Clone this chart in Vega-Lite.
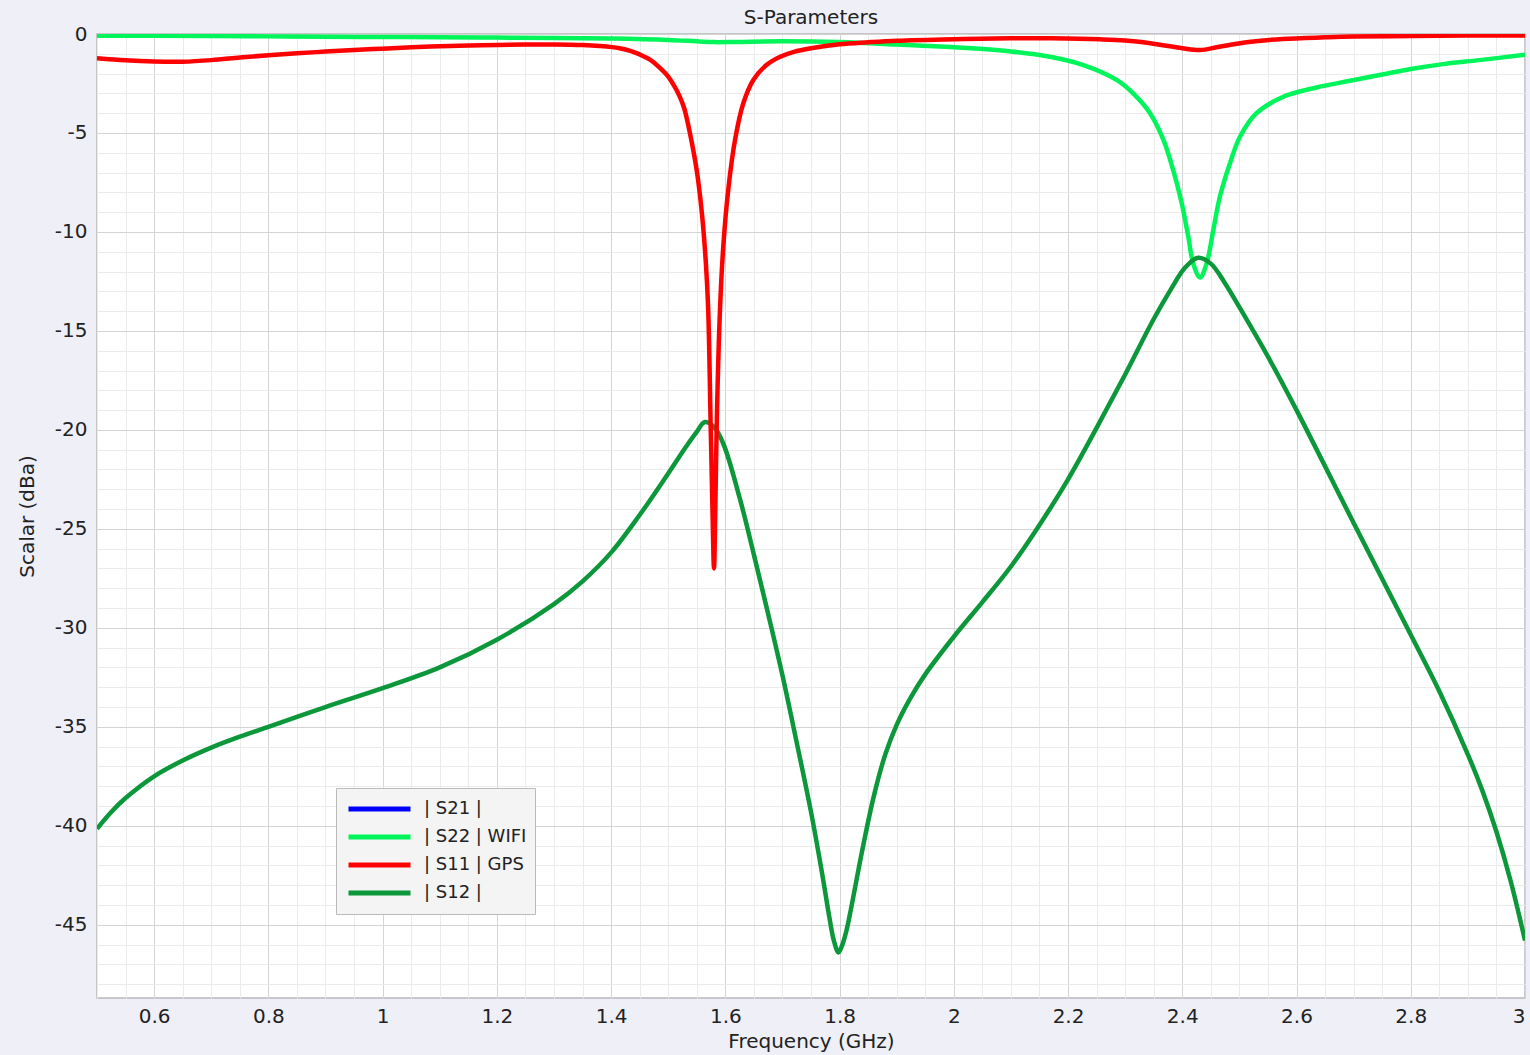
{
  "$schema": "https://vega.github.io/schema/vega-lite/v6.json",
  "width": 1428,
  "height": 964,
  "autosize": {"type": "none"},
  "padding": {"left": 97, "top": 34, "right": 5, "bottom": 57},
  "background": "#efeff8",
  "config": {
    "view": {"fill": "white", "stroke": "#b8b8b8", "strokeWidth": 1.5},
    "font": "DejaVu Sans"
  },
  "title": {"text": "S-Parameters", "fontSize": 20, "fontWeight": "normal", "color": "#222222", "offset": -4, "font": "DejaVu Sans"},
  "data": {"values": [
    {"s": "| S11 | GPS", "f": 0.5, "db": -1.23},
    {"s": "| S11 | GPS", "f": 0.55, "db": -1.33},
    {"s": "| S11 | GPS", "f": 0.6, "db": -1.39},
    {"s": "| S11 | GPS", "f": 0.65, "db": -1.4},
    {"s": "| S11 | GPS", "f": 0.7, "db": -1.32},
    {"s": "| S11 | GPS", "f": 0.75, "db": -1.19},
    {"s": "| S11 | GPS", "f": 0.8, "db": -1.07},
    {"s": "| S11 | GPS", "f": 0.85, "db": -0.97},
    {"s": "| S11 | GPS", "f": 0.9, "db": -0.89},
    {"s": "| S11 | GPS", "f": 0.95, "db": -0.81},
    {"s": "| S11 | GPS", "f": 1.0, "db": -0.74},
    {"s": "| S11 | GPS", "f": 1.05, "db": -0.67},
    {"s": "| S11 | GPS", "f": 1.1, "db": -0.62},
    {"s": "| S11 | GPS", "f": 1.15, "db": -0.58},
    {"s": "| S11 | GPS", "f": 1.2, "db": -0.55},
    {"s": "| S11 | GPS", "f": 1.25, "db": -0.53},
    {"s": "| S11 | GPS", "f": 1.3, "db": -0.53},
    {"s": "| S11 | GPS", "f": 1.35, "db": -0.56},
    {"s": "| S11 | GPS", "f": 1.38, "db": -0.61},
    {"s": "| S11 | GPS", "f": 1.415, "db": -0.72},
    {"s": "| S11 | GPS", "f": 1.435, "db": -0.86},
    {"s": "| S11 | GPS", "f": 1.45, "db": -1.03},
    {"s": "| S11 | GPS", "f": 1.47, "db": -1.33},
    {"s": "| S11 | GPS", "f": 1.485, "db": -1.7},
    {"s": "| S11 | GPS", "f": 1.5, "db": -2.15},
    {"s": "| S11 | GPS", "f": 1.51, "db": -2.6},
    {"s": "| S11 | GPS", "f": 1.52, "db": -3.15},
    {"s": "| S11 | GPS", "f": 1.528, "db": -3.75},
    {"s": "| S11 | GPS", "f": 1.538, "db": -5.0},
    {"s": "| S11 | GPS", "f": 1.55, "db": -6.9},
    {"s": "| S11 | GPS", "f": 1.559, "db": -9.06},
    {"s": "| S11 | GPS", "f": 1.566, "db": -11.6},
    {"s": "| S11 | GPS", "f": 1.57, "db": -13.9},
    {"s": "| S11 | GPS", "f": 1.5745, "db": -20},
    {"s": "| S11 | GPS", "f": 1.5775, "db": -24},
    {"s": "| S11 | GPS", "f": 1.5802, "db": -27},
    {"s": "| S11 | GPS", "f": 1.5825, "db": -24},
    {"s": "| S11 | GPS", "f": 1.5855, "db": -19},
    {"s": "| S11 | GPS", "f": 1.5907, "db": -13.9},
    {"s": "| S11 | GPS", "f": 1.5965, "db": -10.7},
    {"s": "| S11 | GPS", "f": 1.605, "db": -7.9},
    {"s": "| S11 | GPS", "f": 1.617, "db": -5.35},
    {"s": "| S11 | GPS", "f": 1.6315, "db": -3.5},
    {"s": "| S11 | GPS", "f": 1.649, "db": -2.32},
    {"s": "| S11 | GPS", "f": 1.672, "db": -1.57},
    {"s": "| S11 | GPS", "f": 1.696, "db": -1.15},
    {"s": "| S11 | GPS", "f": 1.72, "db": -0.9},
    {"s": "| S11 | GPS", "f": 1.75, "db": -0.72},
    {"s": "| S11 | GPS", "f": 1.8, "db": -0.52},
    {"s": "| S11 | GPS", "f": 1.85, "db": -0.42},
    {"s": "| S11 | GPS", "f": 1.9, "db": -0.34},
    {"s": "| S11 | GPS", "f": 2.0, "db": -0.26},
    {"s": "| S11 | GPS", "f": 2.1, "db": -0.21},
    {"s": "| S11 | GPS", "f": 2.17, "db": -0.22},
    {"s": "| S11 | GPS", "f": 2.256, "db": -0.27},
    {"s": "| S11 | GPS", "f": 2.3, "db": -0.33},
    {"s": "| S11 | GPS", "f": 2.344, "db": -0.47},
    {"s": "| S11 | GPS", "f": 2.4, "db": -0.72},
    {"s": "| S11 | GPS", "f": 2.431, "db": -0.81},
    {"s": "| S11 | GPS", "f": 2.46, "db": -0.67},
    {"s": "| S11 | GPS", "f": 2.49, "db": -0.52},
    {"s": "| S11 | GPS", "f": 2.52, "db": -0.39},
    {"s": "| S11 | GPS", "f": 2.576, "db": -0.25},
    {"s": "| S11 | GPS", "f": 2.65, "db": -0.17},
    {"s": "| S11 | GPS", "f": 2.7, "db": -0.13},
    {"s": "| S11 | GPS", "f": 2.8, "db": -0.1},
    {"s": "| S11 | GPS", "f": 2.9, "db": -0.08},
    {"s": "| S11 | GPS", "f": 3.0, "db": -0.07},

    {"s": "| S22 | WIFI", "f": 0.5, "db": -0.09},
    {"s": "| S22 | WIFI", "f": 0.6, "db": -0.09},
    {"s": "| S22 | WIFI", "f": 0.7, "db": -0.1},
    {"s": "| S22 | WIFI", "f": 0.8, "db": -0.12},
    {"s": "| S22 | WIFI", "f": 0.9, "db": -0.14},
    {"s": "| S22 | WIFI", "f": 1.0, "db": -0.15},
    {"s": "| S22 | WIFI", "f": 1.1, "db": -0.16},
    {"s": "| S22 | WIFI", "f": 1.2, "db": -0.18},
    {"s": "| S22 | WIFI", "f": 1.3, "db": -0.2},
    {"s": "| S22 | WIFI", "f": 1.4, "db": -0.23},
    {"s": "| S22 | WIFI", "f": 1.5, "db": -0.3},
    {"s": "| S22 | WIFI", "f": 1.55, "db": -0.37},
    {"s": "| S22 | WIFI", "f": 1.58, "db": -0.41},
    {"s": "| S22 | WIFI", "f": 1.62, "db": -0.4},
    {"s": "| S22 | WIFI", "f": 1.7, "db": -0.37},
    {"s": "| S22 | WIFI", "f": 1.8, "db": -0.41},
    {"s": "| S22 | WIFI", "f": 1.9, "db": -0.53},
    {"s": "| S22 | WIFI", "f": 2.0, "db": -0.67},
    {"s": "| S22 | WIFI", "f": 2.1, "db": -0.88},
    {"s": "| S22 | WIFI", "f": 2.168, "db": -1.15},
    {"s": "| S22 | WIFI", "f": 2.227, "db": -1.57},
    {"s": "| S22 | WIFI", "f": 2.285, "db": -2.32},
    {"s": "| S22 | WIFI", "f": 2.314, "db": -3.0},
    {"s": "| S22 | WIFI", "f": 2.3435, "db": -4.0},
    {"s": "| S22 | WIFI", "f": 2.367, "db": -5.35},
    {"s": "| S22 | WIFI", "f": 2.384, "db": -6.87},
    {"s": "| S22 | WIFI", "f": 2.399, "db": -8.55},
    {"s": "| S22 | WIFI", "f": 2.4105, "db": -10.24},
    {"s": "| S22 | WIFI", "f": 2.419, "db": -11.58},
    {"s": "| S22 | WIFI", "f": 2.431, "db": -12.3},
    {"s": "| S22 | WIFI", "f": 2.4427, "db": -11.58},
    {"s": "| S22 | WIFI", "f": 2.4543, "db": -9.9},
    {"s": "| S22 | WIFI", "f": 2.466, "db": -8.2},
    {"s": "| S22 | WIFI", "f": 2.4835, "db": -6.53},
    {"s": "| S22 | WIFI", "f": 2.501, "db": -5.19},
    {"s": "| S22 | WIFI", "f": 2.53, "db": -4.0},
    {"s": "| S22 | WIFI", "f": 2.577, "db": -3.17},
    {"s": "| S22 | WIFI", "f": 2.635, "db": -2.7},
    {"s": "| S22 | WIFI", "f": 2.694, "db": -2.36},
    {"s": "| S22 | WIFI", "f": 2.75, "db": -2.05},
    {"s": "| S22 | WIFI", "f": 2.8, "db": -1.77},
    {"s": "| S22 | WIFI", "f": 2.86, "db": -1.51},
    {"s": "| S22 | WIFI", "f": 2.92, "db": -1.32},
    {"s": "| S22 | WIFI", "f": 3.0, "db": -1.05},

    {"s": "| S12 |", "f": 0.5, "db": -40.15},
    {"s": "| S12 |", "f": 0.525, "db": -39.3},
    {"s": "| S12 |", "f": 0.55, "db": -38.6},
    {"s": "| S12 |", "f": 0.6, "db": -37.5},
    {"s": "| S12 |", "f": 0.65, "db": -36.7},
    {"s": "| S12 |", "f": 0.7, "db": -36.05},
    {"s": "| S12 |", "f": 0.75, "db": -35.5},
    {"s": "| S12 |", "f": 0.8, "db": -35.0},
    {"s": "| S12 |", "f": 0.9, "db": -34.0},
    {"s": "| S12 |", "f": 1.0, "db": -33.05},
    {"s": "| S12 |", "f": 1.1, "db": -32.0},
    {"s": "| S12 |", "f": 1.2, "db": -30.6},
    {"s": "| S12 |", "f": 1.3, "db": -28.8},
    {"s": "| S12 |", "f": 1.35, "db": -27.65},
    {"s": "| S12 |", "f": 1.4, "db": -26.2},
    {"s": "| S12 |", "f": 1.45, "db": -24.3},
    {"s": "| S12 |", "f": 1.5, "db": -22.2},
    {"s": "| S12 |", "f": 1.53, "db": -20.9},
    {"s": "| S12 |", "f": 1.55, "db": -20.1},
    {"s": "| S12 |", "f": 1.564, "db": -19.6},
    {"s": "| S12 |", "f": 1.58, "db": -19.85},
    {"s": "| S12 |", "f": 1.5965, "db": -20.7},
    {"s": "| S12 |", "f": 1.6257, "db": -23.5},
    {"s": "| S12 |", "f": 1.65, "db": -26.3},
    {"s": "| S12 |", "f": 1.675, "db": -29.3},
    {"s": "| S12 |", "f": 1.7, "db": -32.4},
    {"s": "| S12 |", "f": 1.725, "db": -35.8},
    {"s": "| S12 |", "f": 1.75, "db": -39.3},
    {"s": "| S12 |", "f": 1.77, "db": -42.5},
    {"s": "| S12 |", "f": 1.782, "db": -44.6},
    {"s": "| S12 |", "f": 1.79, "db": -45.8},
    {"s": "| S12 |", "f": 1.798, "db": -46.4},
    {"s": "| S12 |", "f": 1.805, "db": -46.0},
    {"s": "| S12 |", "f": 1.812, "db": -45.3},
    {"s": "| S12 |", "f": 1.82, "db": -44.2},
    {"s": "| S12 |", "f": 1.84, "db": -41.2},
    {"s": "| S12 |", "f": 1.86, "db": -38.5},
    {"s": "| S12 |", "f": 1.88, "db": -36.4},
    {"s": "| S12 |", "f": 1.9, "db": -34.9},
    {"s": "| S12 |", "f": 1.925, "db": -33.5},
    {"s": "| S12 |", "f": 1.95, "db": -32.35},
    {"s": "| S12 |", "f": 2.0, "db": -30.45},
    {"s": "| S12 |", "f": 2.05, "db": -28.7},
    {"s": "| S12 |", "f": 2.1, "db": -26.9},
    {"s": "| S12 |", "f": 2.15, "db": -24.8},
    {"s": "| S12 |", "f": 2.2, "db": -22.5},
    {"s": "| S12 |", "f": 2.25, "db": -19.9},
    {"s": "| S12 |", "f": 2.3, "db": -17.2},
    {"s": "| S12 |", "f": 2.35, "db": -14.4},
    {"s": "| S12 |", "f": 2.38, "db": -12.9},
    {"s": "| S12 |", "f": 2.405, "db": -11.8},
    {"s": "| S12 |", "f": 2.4275, "db": -11.3},
    {"s": "| S12 |", "f": 2.45, "db": -11.6},
    {"s": "| S12 |", "f": 2.475, "db": -12.6},
    {"s": "| S12 |", "f": 2.5, "db": -13.8},
    {"s": "| S12 |", "f": 2.55, "db": -16.3},
    {"s": "| S12 |", "f": 2.6, "db": -19.0},
    {"s": "| S12 |", "f": 2.7, "db": -24.7},
    {"s": "| S12 |", "f": 2.8, "db": -30.35},
    {"s": "| S12 |", "f": 2.85, "db": -33.2},
    {"s": "| S12 |", "f": 2.9, "db": -36.4},
    {"s": "| S12 |", "f": 2.925, "db": -38.2},
    {"s": "| S12 |", "f": 2.95, "db": -40.3},
    {"s": "| S12 |", "f": 2.975, "db": -42.8},
    {"s": "| S12 |", "f": 3.0, "db": -45.8}
  ]},
  "resolve": {"axis": {"x": "independent", "y": "independent"}},
  "layer": [
    {
      "transform": [{"filter": "datum.s == '| S22 | WIFI'"}],
      "mark": {"type": "line", "strokeWidth": 4.5, "interpolate": "catmull-rom", "clip": true},
      "encoding": {
        "x": {"field": "f", "type": "quantitative", "scale": {"domain": [0.5, 3], "nice": false, "zero": false},
          "axis": {"orient": "bottom", "values": [0.5,0.55,0.6,0.65,0.7,0.75,0.8,0.85,0.9,0.95,1.0,1.05,1.1,1.15,1.2,1.25,1.3,1.35,1.4,1.45,1.5,1.55,1.6,1.65,1.7,1.75,1.8,1.85,1.9,1.95,2.0,2.05,2.1,2.15,2.2,2.25,2.3,2.35,2.4,2.45,2.5,2.55,2.6,2.65,2.7,2.75,2.8,2.85,2.9,2.95,3.0],
            "grid": true, "gridColor": "#ebebeb", "gridWidth": 1, "labels": false, "ticks": false, "domain": false, "title": null}},
        "y": {"field": "db", "type": "quantitative", "scale": {"domain": [-48.7, 0], "nice": false, "zero": false},
          "axis": {"orient": "left", "values": [-48,-47,-46,-45,-44,-43,-42,-41,-40,-39,-38,-37,-36,-35,-34,-33,-32,-31,-30,-29,-28,-27,-26,-25,-24,-23,-22,-21,-20,-19,-18,-17,-16,-15,-14,-13,-12,-11,-10,-9,-8,-7,-6,-5,-4,-3,-2,-1,0],
            "grid": true, "gridColor": "#ebebeb", "gridWidth": 1, "labels": false, "ticks": false, "domain": false, "title": null}},
        "color": {"field": "s", "type": "nominal",
          "scale": {"domain": ["| S21 |", "| S22 | WIFI", "| S11 | GPS", "| S12 |"], "range": ["#0000ff", "#00f55a", "#ff0000", "#0b973a"]},
          "legend": {"orient": "none", "legendX": 239, "legendY": 754, "title": null, "symbolType": "stroke", "symbolSize": 3844, "symbolStrokeWidth": 5, "clipHeight": 26, "rowPadding": 2, "padding": 8, "fillColor": "#f4f4f4", "strokeColor": "#bbbbbb", "labelFontSize": 18, "labelFont": "DejaVu Sans", "labelColor": "#222222", "labelOffset": 11, "symbolOffset": 2, "labelLimit": 300, "labelExpr": "datum.label + '\u00a0\u00a0\u00a0'"}}
      }
    },
    {
      "transform": [{"filter": "datum.s == '| S12 |'"}],
      "mark": {"type": "line", "strokeWidth": 4.5, "interpolate": "catmull-rom", "clip": true},
      "encoding": {
        "x": {"field": "f", "type": "quantitative",
          "axis": {"orient": "bottom", "values": [0.6,0.8,1.0,1.2,1.4,1.6,1.8,2.0,2.2,2.4,2.6,2.8,3.0], "labelExpr": "toString(datum.value)",
            "grid": true, "gridColor": "#d4d4d4", "gridWidth": 1, "ticks": false, "domain": false,
            "labelFontSize": 20, "labelColor": "#222222", "labelPadding": 8, "labelFont": "DejaVu Sans",
            "title": "Frequency (GHz)", "titleFontSize": 20, "titleFontWeight": "normal", "titleColor": "#222222", "titlePadding": 5, "titleFont": "DejaVu Sans"}},
        "y": {"field": "db", "type": "quantitative",
          "axis": {"orient": "left", "values": [-45,-40,-35,-30,-25,-20,-15,-10,-5,0], "labelExpr": "toString(datum.value)",
            "grid": true, "gridColor": "#d4d4d4", "gridWidth": 1, "ticks": false, "domain": false,
            "labelFontSize": 20, "labelColor": "#222222", "labelPadding": 10, "labelFont": "DejaVu Sans",
            "title": "Scalar (dBa)", "titleFontSize": 20, "titleFontWeight": "normal", "titleColor": "#222222", "titlePadding": 17, "titleFont": "DejaVu Sans"}},
        "color": {"field": "s", "type": "nominal"}
      }
    },
    {
      "transform": [{"filter": "datum.s == '| S11 | GPS'"}],
      "mark": {"type": "line", "strokeWidth": 4.5, "interpolate": "catmull-rom", "clip": true},
      "encoding": {
        "x": {"field": "f", "type": "quantitative", "axis": null},
        "y": {"field": "db", "type": "quantitative", "axis": null},
        "color": {"field": "s", "type": "nominal"}
      }
    }
  ]
}
